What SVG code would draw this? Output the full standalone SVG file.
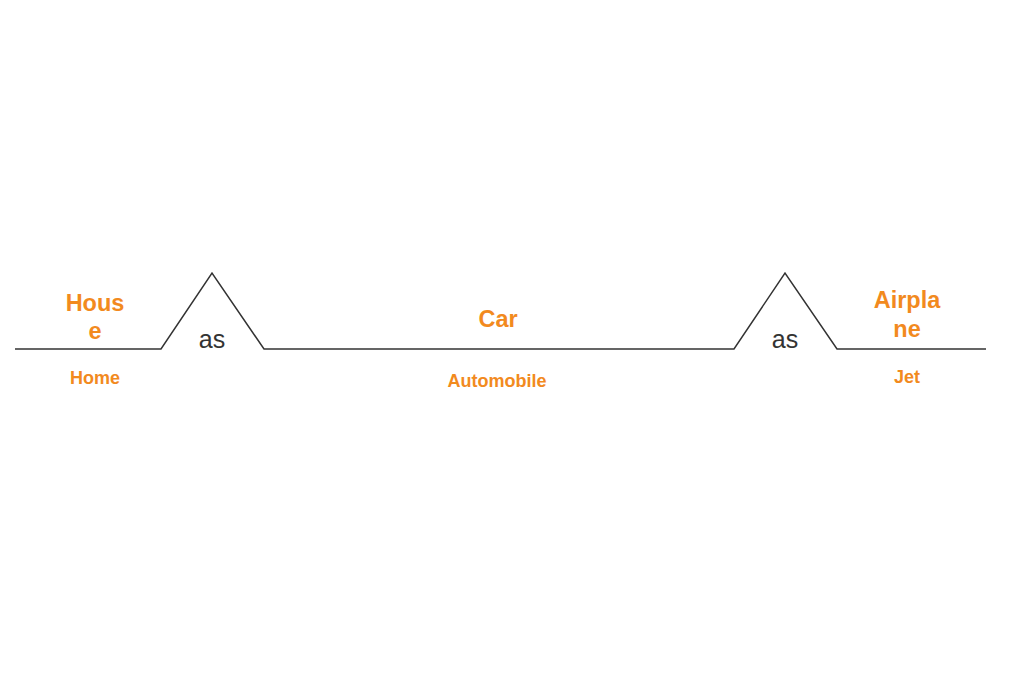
<svg xmlns="http://www.w3.org/2000/svg" width="1024" height="683" viewBox="0 0 1024 683">
<style>
.big{font-family:"Liberation Sans",Arial,sans-serif;font-size:23.5px;font-weight:bold;fill:#F28A1E;text-anchor:middle}
.small{font-family:"Liberation Sans",Arial,sans-serif;font-size:18px;font-weight:bold;fill:#F28A1E;text-anchor:middle}
.as{font-family:"Liberation Sans",Arial,sans-serif;font-size:25px;fill:#333;text-anchor:middle}
</style>
<rect width="1024" height="683" fill="#fff"/>
<g id="connectors">
<path d="M15,349 H161 L212,273 L264,349 H734 L785,273 L837,349 H986" fill="none" stroke="#333" stroke-width="1.5" stroke-linejoin="miter"/>
</g>
<g id="house">
<text class="big" x="95" y="311">Hous</text>
<text class="big" x="95" y="339">e</text>
<text class="small" x="95" y="384">Home</text>
</g>
<g id="as1"><text class="as" x="212" y="348">as</text></g>
<g id="car">
<text class="big" x="498" y="327">Car</text>
<text class="small" x="497" y="387">Automobile</text>
</g>
<g id="as2"><text class="as" x="785" y="348">as</text></g>
<g id="airplane">
<text class="big" x="907" y="308">Airpla</text>
<text class="big" x="907" y="337">ne</text>
<text class="small" x="907" y="383">Jet</text>
</g>
</svg>
